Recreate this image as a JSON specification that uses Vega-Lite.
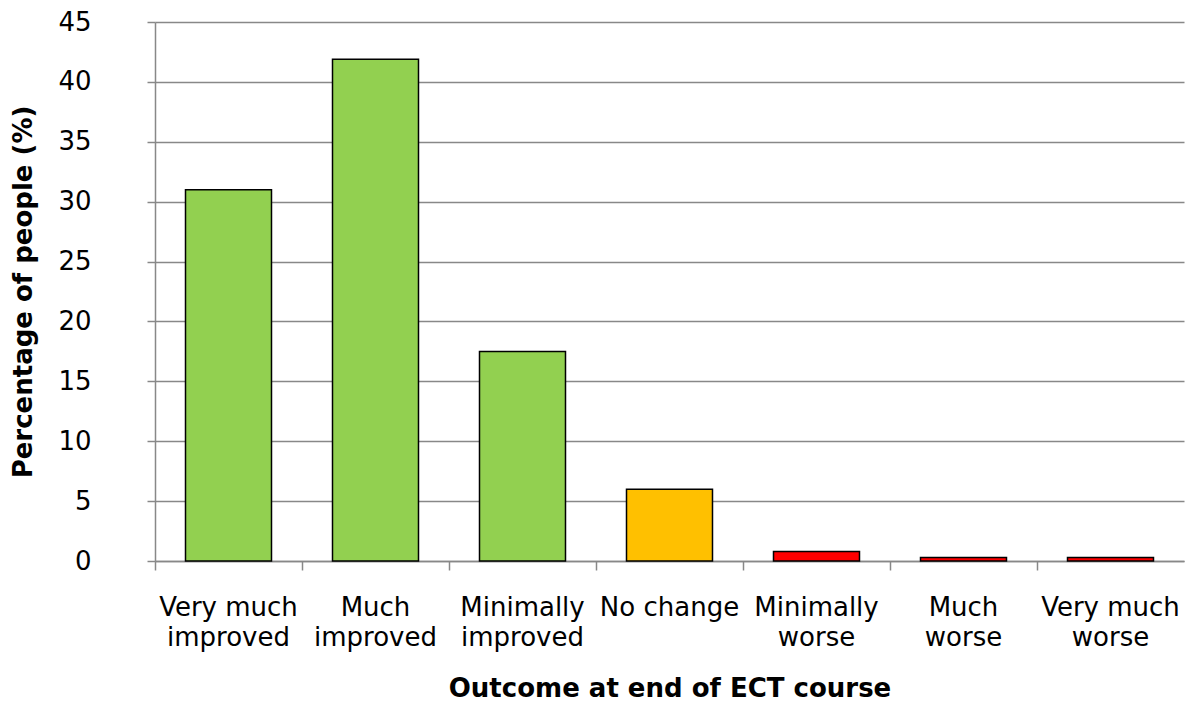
{
  "$schema": "https://vega.github.io/schema/vega-lite/v6.json",
  "autosize": {"type": "none"},
  "padding": {"left": 155, "top": 22, "right": 10, "bottom": 143},
  "width": 1029,
  "height": 539,
  "background": "white",
  "config": {
    "view": {"stroke": null},
    "font": "DejaVu Sans"
  },
  "data": {
    "values": [
      {"outcome": "Very much improved", "group": "Improved", "percent": 31},
      {"outcome": "Much improved", "group": "Improved", "percent": 41.9},
      {"outcome": "Minimally improved", "group": "Improved", "percent": 17.5},
      {"outcome": "No change", "group": "Unchanged", "percent": 6},
      {"outcome": "Minimally worse", "group": "Worse", "percent": 0.8},
      {"outcome": "Much worse", "group": "Worse", "percent": 0.3},
      {"outcome": "Very much worse", "group": "Worse", "percent": 0.3}
    ]
  },
  "mark": {"type": "bar", "stroke": "black", "strokeWidth": 1.5, "width": {"band": 0.585}},
  "encoding": {
    "x": {
      "field": "outcome",
      "type": "nominal",
      "sort": null,
      "scale": {"paddingInner": 0, "paddingOuter": 0},
      "axis": {
        "title": "Outcome at end of ECT course",
        "titleFontSize": 26,
        "titleFontWeight": "bold",
        "titleColor": "black",
        "titlePadding": 25,
        "labelAngle": 0,
        "labelFontSize": 26,
        "labelColor": "black",
        "labelLineHeight": 30,
        "labelPadding": 24,
        "labelBaseline": "top",
        "labelExpr": "datum.value == 'No change' ? datum.value : [slice(datum.value, 0, lastindexof(datum.value, ' ')), slice(datum.value, lastindexof(datum.value, ' ') + 1)]",
        "bandPosition": 0,
        "tickSize": 9,
        "tickColor": "#888888",
        "tickWidth": 1.5,
        "domainColor": "#888888",
        "domainWidth": 1.5,
        "grid": false
      }
    },
    "y": {
      "field": "percent",
      "type": "quantitative",
      "scale": {"domain": [0, 45], "nice": false},
      "axis": {
        "title": "Percentage of people (%)",
        "titleFontSize": 26,
        "titleFontWeight": "bold",
        "titleColor": "black",
        "titlePadding": 21,
        "values": [0, 5, 10, 15, 20, 25, 30, 35, 40, 45],
        "labelFontSize": 26,
        "labelColor": "black",
        "labelPadding": 56,
        "tickSize": 8,
        "tickColor": "#888888",
        "tickWidth": 1.5,
        "domainColor": "#888888",
        "domainWidth": 1.5,
        "grid": true,
        "gridColor": "#888888",
        "gridWidth": 1.5
      }
    },
    "color": {
      "field": "group",
      "type": "nominal",
      "scale": {"domain": ["Improved", "Unchanged", "Worse"], "range": ["#92D050", "#FFC000", "#FF0000"]},
      "legend": null
    }
  }
}
